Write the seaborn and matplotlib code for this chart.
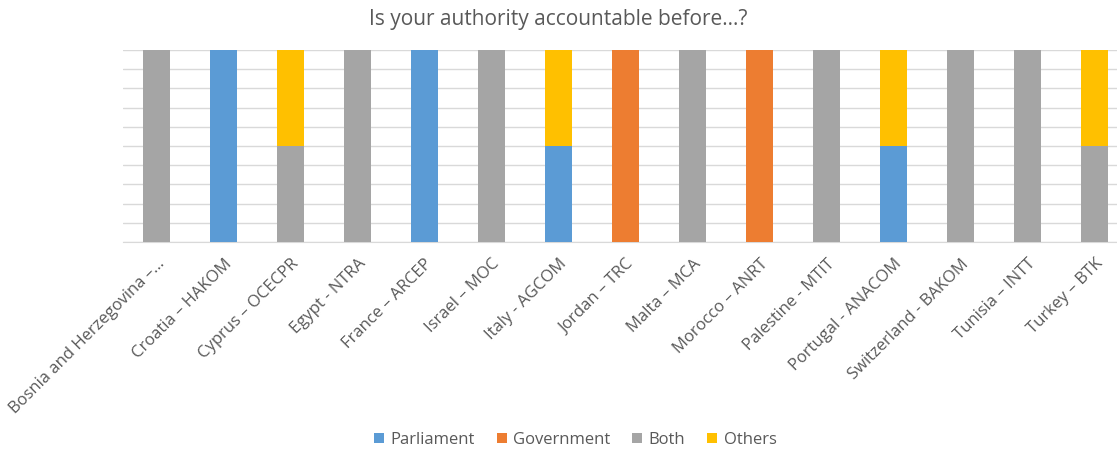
import matplotlib
matplotlib.use("Agg")
import matplotlib.pyplot as plt
import seaborn as sns
import numpy as np
import pandas as pd
from matplotlib.patches import Patch

categories = ["Bosnia and Herzegovina –…", "Croatia – HAKOM", "Cyprus – OCECPR", "Egypt - NTRA",
              "France – ARCEP", "Israel – MOC", "Italy - AGCOM", "Jordan – TRC", "Malta – MCA",
              "Morocco – ANRT", "Palestine - MTIT", "Portugal - ANACOM", "Switzerland - BAKOM",
              "Tunisia – INTT", "Turkey – BTK"]
parliament = [0, 1, 0, 0, 1, 0, 0.5, 0, 0, 0, 0, 0.5, 0, 0, 0]
government = [0, 0, 0, 0, 0, 0, 0, 1, 0, 1, 0, 0, 0, 0, 0]
both =       [1, 0, 0.5, 1, 0, 1, 0, 0, 1, 0, 1, 0, 1, 1, 0.5]
others =     [0, 0, 0.5, 0, 0, 0, 0.5, 0, 0, 0, 0, 0.5, 0, 0, 0.5]
series_names = ["Parliament", "Government", "Both", "Others"]
colors = ["#5B9BD5", "#ED7D31", "#A5A5A5", "#FFC000"]

sns.set_style("white")
plt.rcParams['font.family'] = ['Open Sans', 'DejaVu Sans']
txt = "#595959"

fig = plt.figure(figsize=(11.17, 4.53), dpi=100)
ax = fig.add_axes([123/1117, 1-242/453, (1128-123)/1117, 192/453])

series = [parliament, government, both, others]
cum = np.cumsum(np.array(series), axis=0)
for i in range(3, -1, -1):
    sns.barplot(x=categories, y=cum[i], order=categories, color=colors[i], width=0.4,
                saturation=1, ax=ax, zorder=3, linewidth=0)

ax.set_xlim(-0.5, len(categories) - 0.5)
ax.set_ylim(0, 1)
ax.set_yticks(np.arange(0, 1.01, 0.1))
ax.set_yticklabels([])
ax.tick_params(axis='y', length=0)
ax.tick_params(axis='x', length=0, pad=10)
ax.grid(axis='y', color="#d9d9d9", linewidth=1, zorder=0)
ax.set_axisbelow(True)
for s in ["top", "right", "left"]:
    ax.spines[s].set_visible(False)
ax.spines["bottom"].set_color("#d9d9d9")
ax.set_xlabel("")
ax.set_ylabel("")
ax.set_xticks(range(len(categories)))
ax.set_xticklabels(categories, rotation=45, ha="right", rotation_mode="anchor",
                   fontsize=12, color=txt)

fig.text(0.5, 1-20/453, "Is your authority accountable before…?", ha="center", va="center",
         fontsize=15, color=txt)

handles = [Patch(facecolor=c, edgecolor="none") for c in colors]
fig.legend(handles, series_names, loc="center", bbox_to_anchor=(0.515, 1-440/453), ncol=4,
           frameon=False, fontsize=12, labelcolor=txt, handlelength=0.6, handleheight=0.6,
           columnspacing=1.3, handletextpad=0.4)

fig.savefig("out.png", dpi=100)
